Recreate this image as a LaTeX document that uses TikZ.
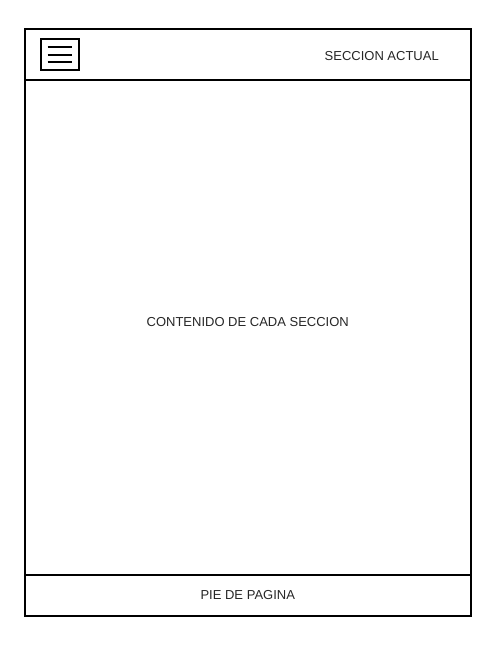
\documentclass[tikz,border=0pt]{standalone}
\usepackage{fontspec}
\setmainfont{Liberation Sans}
\usetikzlibrary{positioning}
\tikzstyle{panel} = [rectangle, draw=black, line width=2pt, inner sep=0pt, outer sep=0pt, minimum width=446.5pt]
\tikzstyle{menubox} = [rectangle, draw=black, line width=2pt, inner sep=0pt, minimum width=38pt, minimum height=31pt]
\tikzstyle{label} = [text=black!85, font=\fontsize{13}{15}\selectfont, inner sep=0pt]
\tikzstyle{bar} = [line width=2pt]

\begin{document}
\begin{tikzpicture}[x=1pt, y=-1pt]
\useasboundingbox (0,0) rectangle (495,646);

\node (header) [panel, minimum height=51pt] at (247.75,54.5) {};
\node (content) [panel, minimum height=495pt, below=0pt of header] {};
\node (footer) [panel, minimum height=40.5pt, below=0pt of content] {};

\node (menu) [menubox] at (59.85,54.5) {};
\draw [bar] ([xshift=-12.2pt, yshift=7.2pt]menu.center) -- ([xshift=12.2pt, yshift=7.2pt]menu.center);
\draw [bar] ([xshift=-12.2pt]menu.center) -- ([xshift=12.2pt]menu.center);
\draw [bar] ([xshift=-12.2pt, yshift=-7.2pt]menu.center) -- ([xshift=12.2pt, yshift=-7.2pt]menu.center);

\node (section) [label, anchor=east, xshift=-32pt, yshift=-1.5pt] at (header.east) {SECCION ACTUAL};
\node (body) [label, yshift=5pt] at (content.center) {CONTENIDO DE CADA SECCION};
\node (foot) [label] at (footer.center) {PIE DE PAGINA};

\end{tikzpicture}
\end{document}
